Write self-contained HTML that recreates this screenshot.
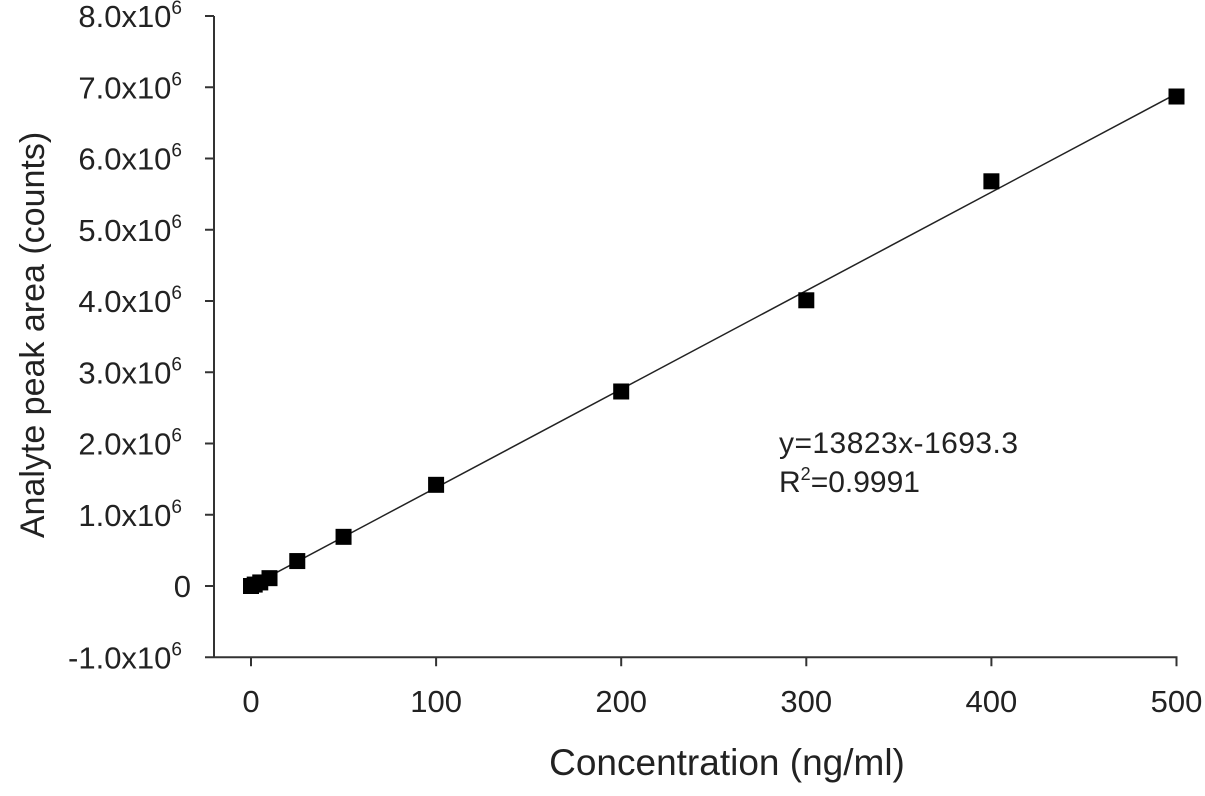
<!DOCTYPE html>
<html><head><meta charset="utf-8"><style>
body{margin:0;background:#fff;}
svg text{font-family:"Liberation Sans",sans-serif;fill:#222;}
</style></head><body>
<svg id="c" width="1205" height="791"></svg>
<script>
const xTicks=[0,100,200,300,400,500];
const yTicks=[-1,0,1,2,3,4,5,6,7,8];
const yTickLabels=["-1.0x10","0","1.0x10","2.0x10","3.0x10","4.0x10","5.0x10","6.0x10","7.0x10","8.0x10"];
const concentrations=[0,2,5,10,25,50,100,200,300,400,500];
const peakAreas=[0.0,0.02,0.05,0.11,0.35,0.69,1.42,2.73,4.01,5.68,6.87];
const fitSlope=13823, fitIntercept=-1693.3;
const svg=document.getElementById('c');
const NS='http://www.w3.org/2000/svg';
const X=v=>251+v*1.851;
const Y=v=>586-v*71.25;
function el(t,a,txt){const e=document.createElementNS(NS,t);for(const k in a)e.setAttribute(k,a[k]);if(txt!=null)e.textContent=txt;svg.appendChild(e);return e;}
let e;
e=el('line',{x1:214,y1:Y(8),x2:214,y2:Y(-1),stroke:'#333','stroke-width':2});


e=el('line',{x1:214,y1:Y(-1),x2:X(500)+1,y2:Y(-1),stroke:'#333','stroke-width':2});


yTicks.forEach((v,i)=>{
  e=el('line',{x1:205,y1:Y(v),x2:214,y2:Y(v),stroke:'#333','stroke-width':2});
  
  
  const t=el('text',{x:v===0?191:182,y:Y(v)+11,'font-size':31,'text-anchor':'end'},yTickLabels[i]);
  
  
  if(v!==0){const s=document.createElementNS(NS,'tspan');s.setAttribute('dy','-13');s.setAttribute('font-size','19');s.textContent='6';t.appendChild(s);}
});
xTicks.forEach(v=>{
  e=el('line',{x1:X(v),y1:Y(-1),x2:X(v),y2:Y(-1)+9,stroke:'#333','stroke-width':2});
  
  
  e=el('text',{x:X(v),y:712,'font-size':31,'text-anchor':'middle'},String(v));
  
  
});
const f=x=>(fitSlope*x+fitIntercept)/1e6;
e=el('line',{x1:X(0),y1:Y(f(0)),x2:X(500),y2:Y(f(500)),stroke:'#222','stroke-width':1.5});


concentrations.forEach((c,i)=>{
  e=el('rect',{x:X(c)-8,y:Y(peakAreas[i])-8,width:16,height:16,fill:'#000'});
  
  
});
e=el('text',{x:779,y:453,'font-size':30,'textLength':239},'y=13823x-1693.3');


e=el('text',{x:779,y:492,'font-size':30},'R');


const s1=document.createElementNS(NS,'tspan');s1.setAttribute('dy','-12');s1.setAttribute('font-size','18');s1.textContent='2';e.appendChild(s1);
const s2=document.createElementNS(NS,'tspan');s2.setAttribute('dy','12');s2.textContent='=0.9991';e.appendChild(s2);
e=el('text',{x:727,y:775,'font-size':37,'text-anchor':'middle'},'Concentration (ng/ml)');


e=el('text',{x:0,y:0,'font-size':34,'text-anchor':'middle',transform:'translate(44,335) rotate(-90)'},'Analyte peak area (counts)');


</script>
</body></html>
